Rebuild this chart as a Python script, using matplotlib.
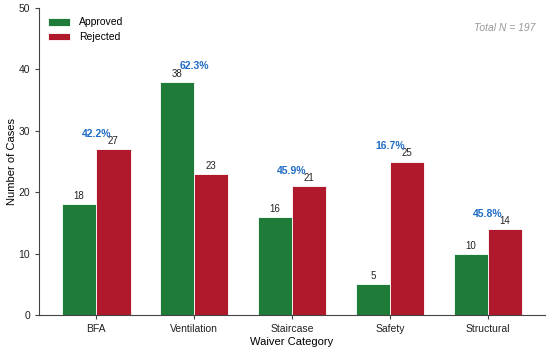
import matplotlib.pyplot as plt
import numpy as np

plt.rcParams['font.family'] = ['Liberation Sans', 'DejaVu Sans']

categories = ['BFA', 'Ventilation', 'Staircase', 'Safety', 'Structural']
approved = [18, 38, 16, 5, 10]
rejected = [27, 23, 21, 25, 14]
pct_labels = ['42.2%', '62.3%', '45.9%', '16.7%', '45.8%']
total_n = 197

green = '#1e7b38'
red = '#b0182c'

fig = plt.figure(figsize=(5.5, 3.5), dpi=100)
ax = fig.add_axes([0.071, 0.1, 0.92, 0.877])

x = np.arange(len(categories))
w = 0.35
b1 = ax.bar(x - w / 2, approved, w, color=green, edgecolor='white', linewidth=0.6, label='Approved')
b2 = ax.bar(x + w / 2, rejected, w, color=red, edgecolor='white', linewidth=0.6, label='Rejected')

# value labels above each bar
for bars in (b1, b2):
    for b in bars:
        h = b.get_height()
        ax.text(b.get_x() + b.get_width() / 2, h + 0.5, f'{int(h)}',
                ha='center', va='bottom', fontsize=7, color='#222222')

# approval rate above each group
for i in range(len(categories)):
    top = max(approved[i], rejected[i])
    ax.text(x[i], top + 1.7, pct_labels[i], ha='center', va='bottom',
            fontsize=7.5, fontweight='bold', color='#1f6cc4')

ax.text(0.98, 0.935, f'Total N = {total_n}', transform=ax.transAxes,
        ha='right', va='center', fontsize=7.5, style='italic', color='#999999')

ax.set_ylim(0, 50)
ax.set_yticks([0, 10, 20, 30, 40, 50])
ax.set_xticks(x)
ax.set_xticklabels(categories)
ax.set_xlabel('Waiver Category', fontsize=8, labelpad=2)
ax.set_ylabel('Number of Cases', fontsize=8, labelpad=1)
ax.tick_params(labelsize=7.5, color='#444444', length=3, labelcolor='#222222')
for s in ('top', 'right'):
    ax.spines[s].set_visible(False)
for s in ('left', 'bottom'):
    ax.spines[s].set_color('#444444')

ax.legend(loc='upper left', frameon=False, fontsize=7.5, handlelength=2.1,
          handleheight=0.8, labelspacing=0.45, bbox_to_anchor=(0.0, 1.0))

fig.savefig('out.png', dpi=100)
